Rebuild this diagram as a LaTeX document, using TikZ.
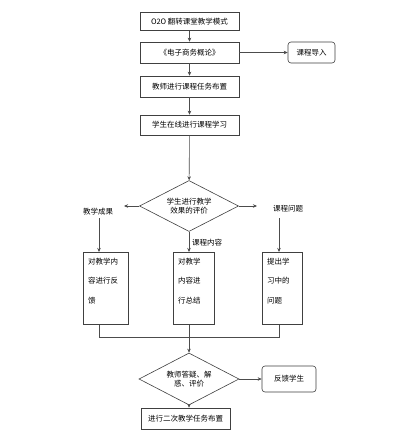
\documentclass[tikz,border=0pt]{standalone}
\usepackage{fontspec}
\setmainfont{Noto Sans CJK SC}
\usetikzlibrary{shapes.geometric,arrows.meta}
\begin{document}
\begin{tikzpicture}[x=1pt,y=-1pt,
  every node/.style={font=\fontsize{7.5}{9}\selectfont, inner sep=0pt},
  stepbox/.style={draw=black!75, line width=0.6pt, minimum width=99pt, minimum height=20pt},
  sidebox/.style={draw=black!75, line width=0.6pt, rounded corners=3pt},
  colbox/.style={draw=black!75, line width=0.6pt, minimum height=72pt, anchor=north west},
  coltext/.style={anchor=north west, align=left, font=\fontsize{7.5}{19.5}\selectfont},
  decide/.style={draw=black!75, line width=0.6pt, diamond, aspect=2, minimum width=99pt, minimum height=51pt, align=center, font=\fontsize{7.5}{9}\selectfont},
  conn/.style={draw=black!70, line width=0.6pt},
  arr/.style={conn, -{Stealth[length=4pt,width=3.5pt]}}
]
\useasboundingbox (0,0) rectangle (402,434);
\fill[white] (0,0) rectangle (402,434);

\node[stepbox, minimum height=18pt] (b1) at (189.5,21.5) {O2O 翻转课堂教学模式};
\node[stepbox, minimum height=21pt] (b2) at (189.5,52.5) {《电子商务概论》};
\node[stepbox, minimum height=21pt] (b3) at (189.5,86.5) {教师进行课程任务布置};
\node[stepbox, minimum height=20pt] (b4) at (189.5,125) {学生在线进行课程学习};
\node[sidebox, minimum width=47pt, minimum height=21pt] (intro) at (311.5,52.5) {课程导入};

\node[decide] (d1) at (189,206) {学生进行教学\\效果的评价};
\coordinate (lt) at (124,206);
\coordinate (rt) at (257,206);
\node (l1) at (98,212) {教学成果};
\node (l3) at (288,209) {课程问题};
\node[anchor=west] (l2) at (192,243) {课程内容};

\node[colbox, minimum width=45pt] (c1) at (83,252) {};
\node[colbox, minimum width=41pt] (c2) at (173,252) {};
\node[colbox, minimum width=40pt] (c3) at (262,252) {};
\node[coltext] (t1) at ([xshift=5pt,yshift=-5.5pt]c1.north west) {对教学内\\容进行反\\馈};
\node[coltext] (t2) at ([xshift=5pt,yshift=-5.5pt]c2.north west) {对教学\\内容进\\行总结};
\node[coltext] (t3) at ([xshift=5pt,yshift=-5.5pt]c3.north west) {提出学\\习中的\\问题};

\coordinate (j1) at (99,337);
\coordinate (j2) at (189,337);
\coordinate (j3) at (279,337);

\node[decide, minimum width=100pt, minimum height=52pt] (d2) at (189,379) {教师答疑、解\\惑、评价};
\node[sidebox, minimum width=54pt, minimum height=26pt] (fb) at (289,379) {反馈学生};
\node[draw=black!75, line width=0.6pt, minimum width=89pt, minimum height=21pt] (last) at (185.5,418.5) {进行二次教学任务布置};

\draw[arr] (b1) -- (b2);
\draw[arr] (b2) -- (b3);
\draw[arr] (b3) -- (b4);
\draw[arr] (b2) -- (intro);
\draw[arr] (b4) -- (d1);
\draw[arr] (d1.west) -- (lt);
\draw[arr] (d1.east) -- (rt);
\draw[arr] (99,218) -- (99,252);
\draw[arr] (279,218) -- (279,252);
\draw[arr] (d1.south) -- (c2.north -| d1.south);
\draw[conn] (c1.south -| j1) -- (j1) -- (j3) -- (c3.south -| j3);
\draw[conn] (c2.south -| j2) -- (j2);
\draw[arr] (j2) -- (d2.north);
\draw[arr] (d2.east) -- (fb.west);
\draw[arr] (d2.south) -- (last.north -| d2.south);
\end{tikzpicture}
\end{document}
